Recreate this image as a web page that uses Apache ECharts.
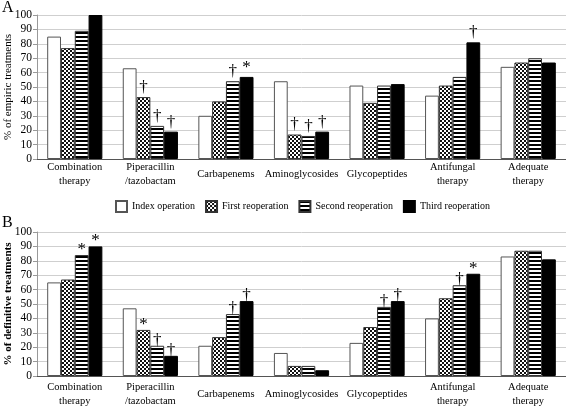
<!DOCTYPE html>
<html>
<head>
<meta charset="utf-8">
<script src="https://cdn.jsdelivr.net/npm/echarts@6/dist/echarts.min.js"></script>
<style>
html,body{margin:0;padding:0;background:#fff;}
#chart{width:566px;height:407px;}
</style>
</head>
<body>
<div id="chart"></div>
<script>
// ---- data ----
const categories = ['Combination\ntherapy', 'Piperacillin\n/tazobactam', 'Carbapenems', 'Aminoglycosides', 'Glycopeptides', 'Antifungal\ntherapy', 'Adequate\ntherapy'];
const seriesNames = ['Index operation', 'First reoperation', 'Second reoperation', 'Third reoperation'];
const yTicks = [0, 10, 20, 30, 40, 50, 60, 70, 80, 90, 100];

const empiricIndex  = [85, 63, 30, 54, 51, 44, 64];
const empiricFirst  = [77, 43, 40, 17, 39, 51, 67];
const empiricSecond = [89, 23, 54, 16, 51, 57, 70];
const empiricThird  = [100, 19, 57, 19, 52, 81, 67];

const definitiveIndex  = [65, 47, 21, 16, 23, 40, 83];
const definitiveFirst  = [67, 32, 27, 7, 34, 54, 87];
const definitiveSecond = [84, 21, 43, 7, 48, 63, 87];
const definitiveThird  = [90, 14, 52, 4, 52, 71, 81];

const empiricMarksIndex  = ['', '', '', '', '', '', ''];
const empiricMarksFirst  = ['', '†', '', '†', '', '', ''];
const empiricMarksSecond = ['', '†', '†', '†', '', '', ''];
const empiricMarksThird  = ['', '†', '*', '†', '', '†', ''];

const definitiveMarksIndex  = ['', '', '', '', '', '', ''];
const definitiveMarksFirst  = ['', '*', '', '', '', '', ''];
const definitiveMarksSecond = ['*', '†', '†', '', '†', '†', ''];
const definitiveMarksThird  = ['*', '†', '†', '', '†', '*', ''];

// ---- patterns ----
function checkerPattern() {
  const c = document.createElement('canvas');
  c.width = 4; c.height = 4;
  const g = c.getContext('2d');
  g.fillStyle = '#fff'; g.fillRect(0, 0, 4, 4);
  g.fillStyle = '#111';
  g.fillRect(0, 0, 2, 2);
  g.fillRect(2, 2, 2, 2);
  return { image: c, repeat: 'repeat' };
}
function stripePattern() {
  const c = document.createElement('canvas');
  c.width = 4; c.height = 4;
  const g = c.getContext('2d');
  g.fillStyle = '#fff'; g.fillRect(0, 0, 4, 4);
  g.fillStyle = '#000';
  g.fillRect(0, 0, 4, 2);
  return { image: c, repeat: 'repeat' };
}
const fills = ['#ffffff', checkerPattern(), stripePattern(), '#000000'];
const borders = ['#555555', '#333333', '#333333', '#000000'];

const FONT = '"Liberation Serif", "Times New Roman", serif';

function yAxisCfg(gridIndex, name, bold) {
  return {
    type: 'value', gridIndex: gridIndex, min: 0, max: 100, interval: 10,
    name: name, nameLocation: 'middle', nameGap: 23, nameRotate: 90, nameMoveOverlap: false,
    nameTextStyle: { fontFamily: FONT, fontSize: 11, color: '#000', fontWeight: bold ? 'bold' : 'normal' },
    axisLine: { show: true, lineStyle: { color: '#999', width: 1 } },
    axisTick: { show: true, length: 4, lineStyle: { color: '#999' } },
    axisLabel: { fontFamily: FONT, fontSize: 11.5, color: '#000', margin: 5,
      formatter: function (v) { return yTicks.indexOf(v) >= 0 ? String(v) : ''; } },
    splitLine: { show: true, lineStyle: { color: '#cfcfcf', width: 1 } }
  };
}
function xAxisCfg(gridIndex, margin) {
  return {
    type: 'category', gridIndex: gridIndex, data: categories,
    axisLine: { show: true, lineStyle: { color: '#555', width: 1 } },
    axisTick: { show: false },
    axisLabel: { fontFamily: FONT, fontSize: 10.5, color: '#000', lineHeight: 13.5,
      verticalAlign: 'middle', margin: margin, interval: 0 }
  };
}
function barSeries(i, gridIdx, values, marks, dist) {
  return {
    name: seriesNames[i], type: 'bar', xAxisIndex: gridIdx, yAxisIndex: gridIdx,
    data: values, barGap: '0%', barCategoryGap: '27%',
    itemStyle: { color: fills[i], borderColor: borders[i], borderWidth: 1 },
    label: {
      show: true, position: 'top', distance: dist,
      formatter: function (p) { return marks[p.dataIndex]; },
      fontFamily: FONT, fontSize: 17, color: '#000'
    },
    emphasis: { disabled: true },
    animation: false
  };
}

const chart = echarts.init(document.getElementById('chart'), null, { renderer: 'canvas' });
const empiric = [empiricIndex, empiricFirst, empiricSecond, empiricThird];
const empiricMarks = [empiricMarksIndex, empiricMarksFirst, empiricMarksSecond, empiricMarksThird];
const definitive = [definitiveIndex, definitiveFirst, definitiveSecond, definitiveThird];
const definitiveMarks = [definitiveMarksIndex, definitiveMarksFirst, definitiveMarksSecond, definitiveMarksThird];

const series = [];
for (let i = 0; i < 4; i++) series.push(barSeries(i, 0, empiric[i], empiricMarks[i], 1));
for (let i = 0; i < 4; i++) series.push(barSeries(i, 1, definitive[i], definitiveMarks[i], -3));

chart.setOption({
  animation: false,
  backgroundColor: '#fff',
  textStyle: { fontFamily: FONT },
  grid: [
    { left: 37, right: 0, top: 15, height: 144, containLabel: false, outerBoundsMode: 'none' },
    { left: 37, right: 0, top: 232, height: 144, containLabel: false, outerBoundsMode: 'none' }
  ],
  xAxis: [xAxisCfg(0, 15), xAxisCfg(1, 18)],
  yAxis: [yAxisCfg(0, '% of empiric treatments', false), yAxisCfg(1, '% of definitive treatments', true)],
  legend: {
    data: seriesNames, left: 115, top: 200, padding: 0, icon: 'rect',
    itemWidth: 11, itemHeight: 11, itemGap: 10,
    textStyle: { fontFamily: FONT, fontSize: 10, color: '#000' },
    selectedMode: false
  },
  graphic: [
    { type: 'text', left: 2, top: 0, style: { text: 'A', font: '16px "Liberation Serif"', fill: '#000' } },
    { type: 'text', left: 2, top: 215, style: { text: 'B', font: '16px "Liberation Serif"', fill: '#000' } }
  ],
  series: series
});
</script>
</body>
</html>
